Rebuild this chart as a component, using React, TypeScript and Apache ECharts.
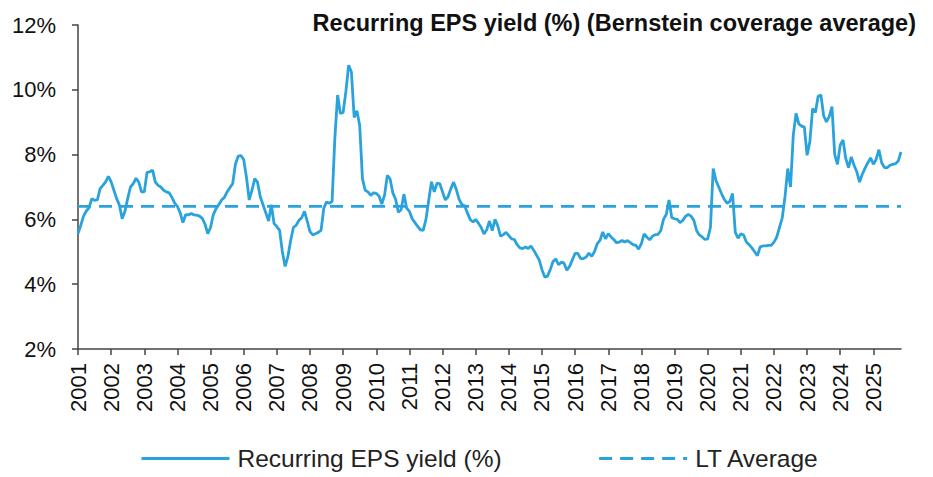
import React, { useEffect, useRef } from "react";
import * as echarts from "echarts";

// Monthly recurring EPS yield (%), Jan 2001 – Nov 2025
const y2001 = [5.56, 5.82, 6.1, 6.26, 6.36, 6.64, 6.59, 6.6, 6.95, 7.05, 7.16, 7.33];
const y2002 = [7.16, 6.9, 6.64, 6.44, 6.02, 6.25, 6.65, 7.0, 7.1, 7.27, 7.15, 6.85];
const y2003 = [6.85, 7.45, 7.47, 7.52, 7.15, 7.05, 7.0, 6.9, 6.85, 6.82, 6.68, 6.5];
const y2004 = [6.4, 6.2, 5.9, 6.15, 6.14, 6.18, 6.14, 6.13, 6.1, 6.03, 5.85, 5.56];
const y2005 = [5.75, 6.15, 6.33, 6.46, 6.6, 6.68, 6.85, 6.98, 7.1, 7.7, 7.95, 7.97];
const y2006 = [7.85, 7.3, 6.6, 6.9, 7.26, 7.15, 6.7, 6.45, 6.2, 5.95, 6.45, 5.87];
const y2007 = [5.78, 5.66, 5.0, 4.55, 4.85, 5.35, 5.75, 5.82, 5.97, 6.05, 6.25, 5.95];
const y2008 = [5.62, 5.52, 5.56, 5.6, 5.66, 6.35, 6.54, 6.5, 6.55, 8.5, 9.84, 9.27];
const y2009 = [9.3, 9.95, 10.76, 10.55, 9.15, 9.35, 8.9, 7.25, 6.9, 6.85, 6.74, 6.82];
const y2010 = [6.8, 6.72, 6.47, 6.75, 7.36, 7.25, 6.82, 6.62, 6.22, 6.3, 6.78, 6.35];
const y2011 = [6.25, 6.02, 5.9, 5.78, 5.68, 5.66, 6.0, 6.6, 7.16, 6.85, 7.12, 7.1];
const y2012 = [6.85, 6.6, 6.7, 6.95, 7.15, 6.92, 6.62, 6.46, 6.42, 6.2, 6.0, 5.92];
const y2013 = [6.0, 5.88, 5.75, 5.55, 5.68, 5.95, 5.65, 6.0, 5.8, 5.48, 5.53, 5.6];
const y2014 = [5.5, 5.4, 5.38, 5.22, 5.12, 5.1, 5.15, 5.1, 5.18, 5.05, 4.9, 4.75];
const y2015 = [4.45, 4.22, 4.25, 4.45, 4.7, 4.78, 4.6, 4.68, 4.65, 4.43, 4.55, 4.75];
const y2016 = [4.95, 4.95, 4.79, 4.79, 4.84, 4.96, 4.86, 5.0, 5.25, 5.35, 5.61, 5.4];
const y2017 = [5.56, 5.46, 5.38, 5.28, 5.3, 5.35, 5.3, 5.35, 5.28, 5.22, 5.2, 5.08];
const y2018 = [5.25, 5.55, 5.45, 5.37, 5.48, 5.53, 5.54, 5.65, 6.0, 6.15, 6.6, 6.05];
const y2019 = [6.02, 6.0, 5.9, 5.97, 6.1, 6.15, 6.1, 5.97, 5.65, 5.52, 5.46, 5.38];
const y2020 = [5.4, 5.75, 7.57, 7.2, 7.0, 6.8, 6.62, 6.5, 6.55, 6.8, 5.6, 5.42];
const y2021 = [5.56, 5.52, 5.3, 5.22, 5.12, 5.0, 4.88, 5.15, 5.18, 5.18, 5.2, 5.2];
const y2022 = [5.3, 5.45, 5.75, 6.05, 6.7, 7.57, 7.0, 8.6, 9.27, 8.95, 8.88, 8.85];
const y2023 = [7.98, 8.4, 9.42, 9.3, 9.8, 9.84, 9.2, 9.01, 9.17, 9.48, 8.0, 7.7];
const y2024 = [8.3, 8.45, 7.88, 7.6, 7.93, 7.67, 7.47, 7.15, 7.4, 7.58, 7.75, 7.9];
const y2025 = [7.7, 7.85, 8.15, 7.75, 7.6, 7.6, 7.67, 7.7, 7.72, 7.8, 8.08];

const yieldValues = [
  ...y2001, ...y2002, ...y2003, ...y2004, ...y2005, ...y2006, ...y2007,
  ...y2008, ...y2009, ...y2010, ...y2011, ...y2012, ...y2013, ...y2014,
  ...y2015, ...y2016, ...y2017, ...y2018, ...y2019, ...y2020, ...y2021,
  ...y2022, ...y2023, ...y2024, ...y2025,
];

const ltAverage = 6.4;

const years = [
  "2001", "2002", "2003", "2004", "2005", "2006", "2007", "2008", "2009",
  "2010", "2011", "2012", "2013", "2014", "2015", "2016", "2017", "2018",
  "2019", "2020", "2021", "2022", "2023", "2024", "2025",
];

const monthNums = ["01", "02", "03", "04", "05", "06", "07", "08", "09", "10", "11", "12"];

// category per month, Jan 2001 .. Nov 2025
const categories: string[] = [];
years.forEach((yr) => monthNums.forEach((mo) => categories.push(yr + "-" + mo)));
categories.length = yieldValues.length;

const yTicks = { min: 2, max: 12, interval: 2 };

const titleText = "Recurring EPS yield (%) (Bernstein coverage average)";
const seriesNames = ["Recurring EPS yield (%)", "LT Average"];

const BLUE = "#2aa2dc";
const FONT = "'Liberation Sans', Arial, sans-serif";

export default function App() {
  const ref = useRef<HTMLDivElement>(null);
  useEffect(() => {
    if (!ref.current) return;
    const chart = echarts.init(ref.current, undefined, { renderer: "svg" });
    const isYearStart = (index: number) => index % 12 === 0;
    chart.setOption({
      animation: false,
      textStyle: { fontFamily: FONT },
      title: {
        text: titleText,
        right: 12,
        top: 6,
        textStyle: { fontFamily: FONT, fontSize: 23.5, fontWeight: "bold", color: "#111" },
      },
      legend: {
        left: 140,
        top: 446,
        padding: 0,
        itemWidth: 88,
        itemHeight: 14,
        itemGap: 96,
        itemStyle: { opacity: 0 },
        lineStyle: { width: 3 },
        textStyle: { fontFamily: FONT, fontSize: 24.5, color: "#222", padding: [0, 0, 0, 3] },
        data: seriesNames,
      },
      grid: { left: 78, right: 32, top: 25, bottom: 128, containLabel: false },
      xAxis: {
        type: "category",
        data: categories,
        boundaryGap: false,
        axisLine: { show: true, lineStyle: { color: "#444", width: 1.5 } },
        axisTick: {
          show: true,
          interval: (index: number) => isYearStart(index),
          length: 6,
          lineStyle: { color: "#444", width: 1.5 },
        },
        axisLabel: {
          interval: (index: number) => isYearStart(index),
          rotate: 90,
          margin: 14,
          hideOverlap: false,
          fontFamily: FONT,
          fontSize: 22,
          color: "#111",
          formatter: (v: string) => v.slice(0, 4),
        },
        splitLine: { show: false },
      },
      yAxis: {
        type: "value",
        min: yTicks.min,
        max: yTicks.max,
        interval: yTicks.interval,
        axisLine: { show: true, lineStyle: { color: "#444", width: 1.5 } },
        axisTick: { show: true, length: 6, lineStyle: { color: "#444", width: 1.5 } },
        axisLabel: {
          margin: 22,
          fontFamily: FONT,
          fontSize: 22,
          color: "#111",
          formatter: "{value}%",
        },
        splitLine: { show: false },
      },
      series: [
        {
          name: seriesNames[0],
          type: "line",
          data: yieldValues,
          symbol: "none",
          lineStyle: { color: BLUE, width: 2.8 },
          itemStyle: { color: BLUE },
          z: 3,
        },
        {
          name: seriesNames[1],
          type: "line",
          data: categories.map(() => ltAverage),
          symbol: "none",
          lineStyle: { color: BLUE, width: 2.8, type: [13, 8] },
          itemStyle: { color: BLUE },
          z: 2,
        },
      ],
    });
    return () => chart.dispose();
  }, []);
  return (
    <div
      ref={ref}
      style={{ position: "fixed", left: 0, top: 0, width: 933, height: 477, background: "#fff" }}
    />
  );
}
